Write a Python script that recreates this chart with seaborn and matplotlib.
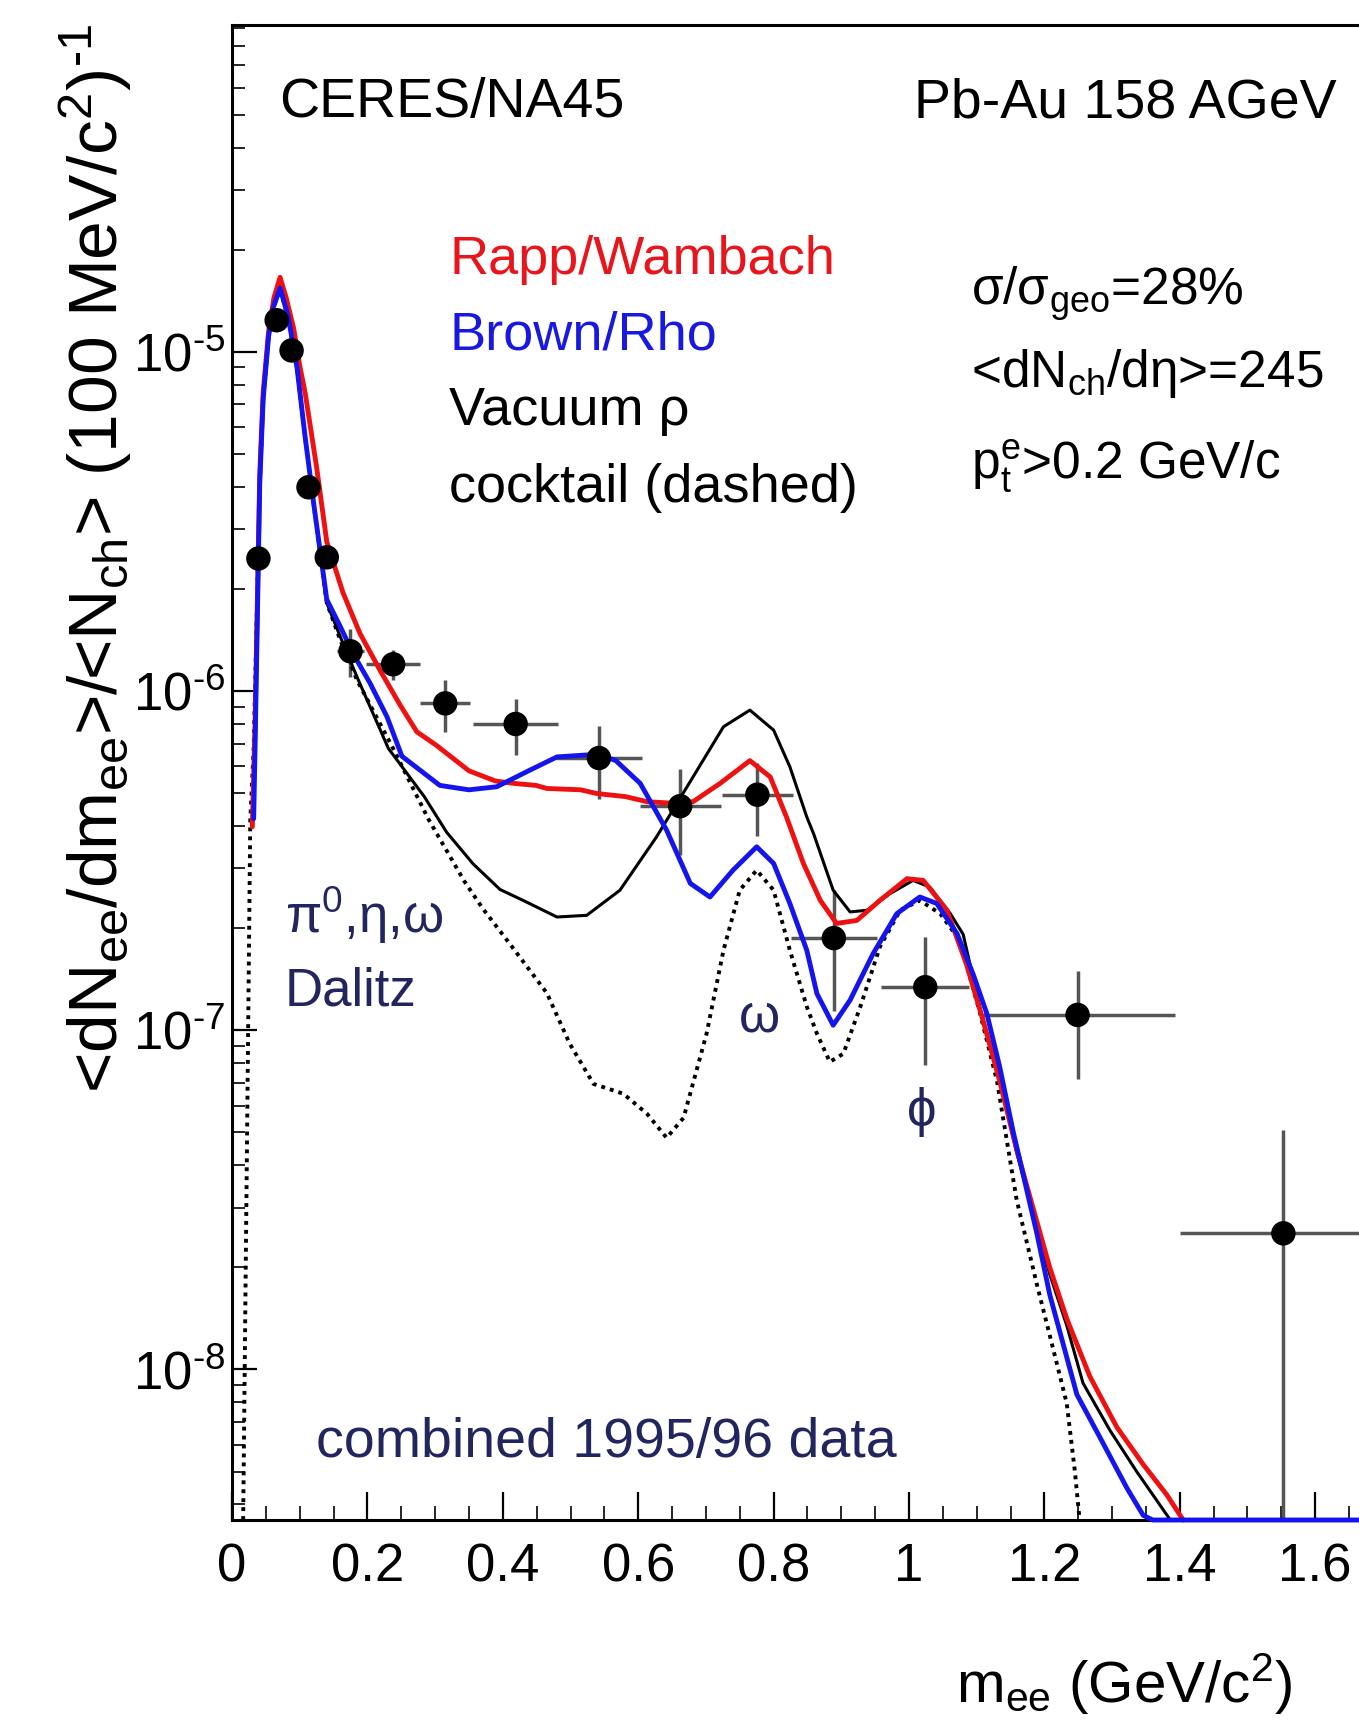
import numpy as np
import pandas as pd
import matplotlib
matplotlib.use("Agg")
import matplotlib.pyplot as plt
import seaborn as sns
from matplotlib.ticker import MultipleLocator, LogLocator, NullFormatter, FuncFormatter, FixedLocator

# ---------------- data ----------------
# data points: mass (GeV/c^2), yield, errors
pts_m = [0.039, 0.066, 0.088, 0.113, 0.140, 0.175, 0.238, 0.315, 0.419, 0.542,
         0.662, 0.776, 0.889, 1.024, 1.249, 1.553]
pts_y = [2.46e-6, 1.24e-5, 1.01e-5, 3.99e-6, 2.48e-6, 1.31e-6, 1.20e-6, 9.2e-7,
         8.0e-7, 6.35e-7, 4.58e-7, 4.95e-7, 1.87e-7, 1.34e-7, 1.11e-7, 2.52e-8]
pts_xerr = [0.008, 0.008, 0.008, 0.008, 0.008, 0.02, 0.04, 0.037, 0.063, 0.064,
            0.06, 0.052, 0.063, 0.065, 0.144, 0.153]
pts_yerr = [1.2e-7, 6.0e-7, 5.0e-7, 2.0e-7, 1.2e-7, 2.1e-7, 1.2e-7, 1.6e-7,
            1.5e-7, 1.55e-7, 1.3e-7, 1.2e-7, 7.3e-8, 5.5e-8, 3.9e-8, 2.55e-8]

# Rapp/Wambach (red): mass, log10(yield)
red_m = [0.030, 0.034, 0.041, 0.046, 0.054, 0.062, 0.071, 0.080, 0.091, 0.100,
         0.108, 0.125, 0.140, 0.164, 0.189, 0.219, 0.248, 0.273, 0.302, 0.350,
         0.389, 0.416, 0.449, 0.465, 0.515, 0.539, 0.581, 0.613, 0.646, 0.681,
         0.721, 0.765, 0.795, 0.819, 0.844, 0.869, 0.893, 0.923, 0.957, 0.997,
         1.021, 1.056, 1.085, 1.110, 1.134, 1.159, 1.189, 1.208, 1.233, 1.267,
         1.307, 1.346, 1.381, 1.405]
red_lg = [-6.40, -6.10, -5.36, -5.12, -4.94, -4.84, -4.78, -4.84, -4.93, -5.04,
          -5.12, -5.34, -5.56, -5.71, -5.83, -5.94, -6.04, -6.12, -6.16, -6.235,
          -6.265, -6.272, -6.278, -6.287, -6.291, -6.302, -6.311, -6.326, -6.330, -6.326,
          -6.272, -6.205, -6.253, -6.371, -6.508, -6.617, -6.685, -6.676, -6.617, -6.553,
          -6.558, -6.646, -6.806, -6.975, -7.15, -7.351, -7.565, -7.70, -7.85, -8.02,
          -8.17, -8.28, -8.37, -8.6]

# Brown/Rho (blue)
blue_m = [0.032, 0.034, 0.041, 0.046, 0.054, 0.061, 0.071, 0.083, 0.096, 0.108,
          0.120, 0.130, 0.140, 0.160, 0.179, 0.204, 0.229, 0.251, 0.307, 0.350,
          0.391, 0.440, 0.480, 0.541, 0.567, 0.603, 0.642, 0.677, 0.706, 0.740,
          0.775, 0.800, 0.824, 0.849, 0.864, 0.888, 0.913, 0.947, 0.982, 1.016,
          1.041, 1.071, 1.095, 1.115, 1.134, 1.154, 1.189, 1.208, 1.248, 1.282,
          1.322, 1.346, 1.360, 1.700]
blue_lg = [-6.376, -6.174, -5.386, -5.14, -4.955, -4.869, -4.812, -4.896, -5.046, -5.25,
           -5.437, -5.584, -5.73, -5.81, -5.89, -5.977, -6.076, -6.192, -6.278, -6.291,
           -6.282, -6.233, -6.194, -6.186, -6.205, -6.272, -6.41, -6.567, -6.607, -6.528,
           -6.459, -6.508, -6.626, -6.764, -6.892, -6.985, -6.911, -6.774, -6.656, -6.607,
           -6.626, -6.715, -6.836, -6.951, -7.108, -7.30, -7.60, -7.78, -8.074, -8.20,
           -8.35, -8.43, -9.0, -9.0]

# Vacuum rho (black solid)
black_m = [0.032, 0.034, 0.041, 0.046, 0.054, 0.061, 0.071, 0.083, 0.096, 0.108,
           0.120, 0.130, 0.140, 0.160, 0.185, 0.231, 0.284, 0.317, 0.356, 0.396,
           0.430, 0.480, 0.524, 0.573, 0.627, 0.681, 0.726, 0.765, 0.800, 0.824,
           0.849, 0.859, 0.888, 0.913, 0.938, 0.972, 1.006, 1.031, 1.061, 1.080,
           1.110, 1.134, 1.159, 1.189, 1.208, 1.233, 1.257, 1.297, 1.336, 1.386]
black_lg = [-6.38, -6.18, -5.39, -5.14, -4.96, -4.87, -4.815, -4.90, -5.05, -5.25,
            -5.44, -5.59, -5.74, -5.84, -5.96, -6.169, -6.311, -6.416, -6.509, -6.585,
            -6.617, -6.666, -6.661, -6.587, -6.43, -6.253, -6.105, -6.056, -6.115, -6.223,
            -6.371, -6.42, -6.587, -6.651, -6.646, -6.597, -6.558, -6.578, -6.656, -6.717,
            -6.98, -7.15, -7.36, -7.58, -7.72, -7.87, -8.04, -8.18, -8.30, -8.6]

# cocktail (black dotted)
dot_m = [0.0165, 0.027, 0.032, 0.041, 0.046, 0.054, 0.061, 0.071, 0.083, 0.096,
         0.108, 0.120, 0.130, 0.140, 0.160, 0.185, 0.238, 0.290, 0.343, 0.370,
         0.416, 0.465, 0.499, 0.534, 0.578, 0.613, 0.642, 0.667, 0.701, 0.726,
         0.750, 0.775, 0.800, 0.824, 0.849, 0.864, 0.883, 0.903, 0.928, 0.957,
         0.987, 1.016, 1.046, 1.075, 1.105, 1.130, 1.159, 1.189, 1.208, 1.233,
         1.245, 1.252]
dot_lg = [-8.6, -6.38, -6.17, -5.39, -5.14, -4.96, -4.87, -4.815, -4.90, -5.05,
          -5.25, -5.44, -5.59, -5.74, -5.85, -5.969, -6.169, -6.377, -6.56, -6.64,
          -6.76, -6.89, -7.04, -7.158, -7.187, -7.246, -7.317, -7.258, -7.01, -6.764,
          -6.587, -6.528, -6.587, -6.764, -6.93, -7.01, -7.093, -7.069, -6.931, -6.754,
          -6.646, -6.617, -6.656, -6.735, -6.95, -7.15, -7.50, -7.75, -7.90, -8.10,
          -8.30, -8.6]

x_ticks = [0, 0.2, 0.4, 0.6, 0.8, 1.0, 1.2, 1.4, 1.6]
y_ticks = [1e-8, 1e-7, 1e-6, 1e-5]

# ---------------- style ----------------
sns.set_theme(style="ticks")
plt.rcParams["font.family"] = ["Liberation Sans", "DejaVu Sans"]
plt.rcParams["mathtext.default"] = "regular"
plt.rcParams["axes.linewidth"] = 2.2

W, H = 1359, 1720
fig = plt.figure(figsize=(W / 100, H / 100), dpi=100)
fig.patch.set_facecolor("white")
X0, XB, YT = 232, 1520, 25
ax = fig.add_axes([X0 / W, 1 - XB / H, 1 - X0 / W, (XB - YT) / H])
ax.set_facecolor("white")
ax.set_yscale("log")
YLO, YHI = 3.6e-9, 9.2e-5
ax.set_xlim(0, (W - X0) / 677.0)
ax.set_ylim(YLO, YHI)

def clipv(lg):
    return np.clip(10.0 ** np.asarray(lg), YLO, None)

curves = [
    (dot_m, dot_lg, "black", 2.8, (0, (1.0, 1.3)), 3),
    (black_m, black_lg, "black", 2.2, "-", 4),
    (red_m, red_lg, "#ee1111", 3.5, "-", 5),
    (blue_m, blue_lg, "#1414ee", 3.5, "-", 6),
]
for m, lg, c, lw, ls, z in curves:
    df = pd.DataFrame({"m": m, "y": clipv(lg)})
    sns.lineplot(data=df, x="m", y="y", ax=ax, color=c, lw=lw, linestyle=ls,
                 sort=False, estimator=None, legend=False, zorder=z, clip_on=False)

# data points with error bars
py = np.array(pts_y)
pe = np.array(pts_yerr)
lower = np.minimum(pe, py - 1e-12)
ax.errorbar(pts_m, py, xerr=pts_xerr, yerr=[lower, pe], fmt="none",
            ecolor="#555555", elinewidth=2.5, capsize=0, zorder=2)
sns.scatterplot(x=pts_m, y=pts_y, ax=ax, color="black", s=310, edgecolor="none",
                zorder=8, legend=False)

# axes, ticks
ax.spines["right"].set_visible(False)
for s in ["left", "bottom", "top"]:
    ax.spines[s].set_linewidth(2.2)
    ax.spines[s].set_color("black")
    ax.spines[s].set_zorder(2.5)
ax.xaxis.set_major_locator(FixedLocator(x_ticks))
ax.xaxis.set_minor_locator(MultipleLocator(0.05))
ax.xaxis.set_major_formatter(FuncFormatter(lambda v, p: f"{v:g}"))
ax.yaxis.set_major_locator(FixedLocator(y_ticks))
ax.yaxis.set_minor_locator(LogLocator(base=10, subs=np.arange(2, 10)))
ax.yaxis.set_minor_formatter(NullFormatter())
ax.yaxis.set_major_formatter(FuncFormatter(
    lambda v, p: "$10^{\u2010%d}$" % abs(int(round(np.log10(v))))))
ax.tick_params(axis="x", which="major", direction="in", length=20, width=1.6,
               labelsize=38, pad=16, colors="black", top=False)
ax.tick_params(axis="x", which="minor", direction="in", length=10, width=1.4, top=False)
ax.tick_params(axis="y", which="major", direction="in", length=18, width=1.6,
               labelsize=38, pad=5, colors="black", right=False)
ax.tick_params(axis="y", which="minor", direction="in", length=9, width=1.4, right=False)
ax.set_xlabel("")
ax.set_ylabel("")

def ftext(x, y, s, size, color="black", ha="left", va="baseline", **kw):
    fig.text(x / W, 1 - y / H, s, fontsize=size, color=color, ha=ha, va=va, **kw)

NAVY = "#22265e"
ftext(279, 117, "CERES/NA45", 40)
ftext(914, 117, "Pb-Au 158 AGeV", 40)
ftext(449, 274, "Rapp/Wambach", 39, color="#e8161c")
ftext(449, 349, "Brown/Rho", 39, color="#1818e0")
ftext(449, 425, "Vacuum ρ", 39)
ftext(449, 502, "cocktail (dashed)", 39)
ftext(971, 305, "σ/σ$_{geo}$=28%", 37)
ftext(971, 387, "<dN$_{ch}$/dη>=245", 37)
ftext(971, 479, "p$_{t}^{e}$>0.2 GeV/c", 37)
ftext(285, 933, "π$^{0}$,η,ω", 38, color=NAVY)
ftext(285, 1006, "Dalitz", 38, color=NAVY)
ftext(759, 1031, "ω", 38, color=NAVY, ha="center")
ftext(922, 1112, "ϕ", 38, color=NAVY, ha="center", va="center")
ftext(316, 1457, "combined 1995/96 data", 40, color=NAVY)
ftext(1292, 1703, "m$_{ee}$ (GeV/c$^{2}$)", 42, ha="right")
ftext(96, 558, "<dN$_{ee}$/dm$_{ee}$>/<N$_{ch}$> (100 MeV/c$^{2}$)$^{\u20101}$", 50,
      ha="center", va="center", rotation=90)

fig.savefig("out.png", dpi=100, facecolor="white")
